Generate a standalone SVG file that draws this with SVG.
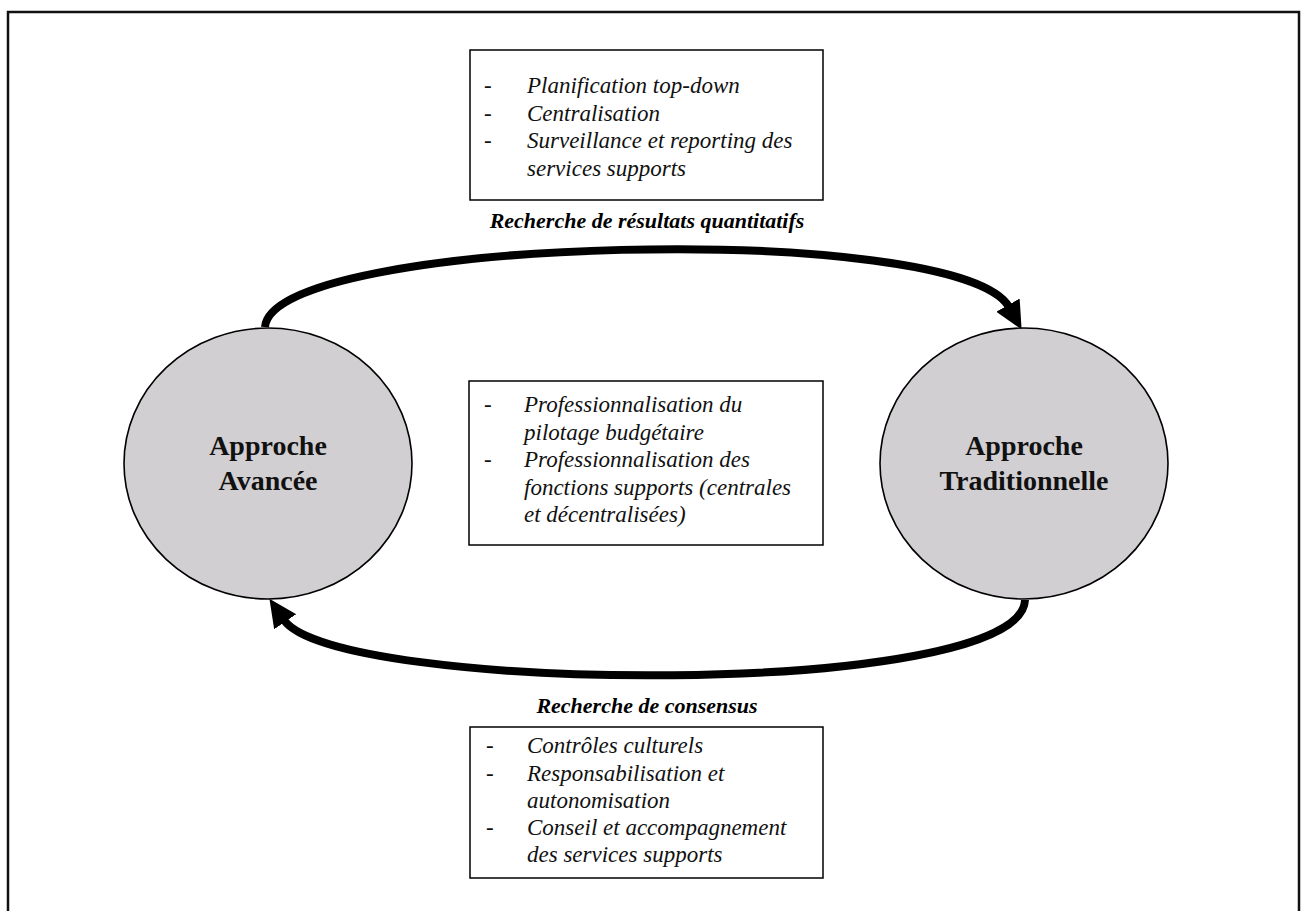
<svg xmlns="http://www.w3.org/2000/svg" width="1307" height="911" viewBox="0 0 1307 911">
<style>
.frame{fill:#fff;stroke:#111;stroke-width:2.5}
.box{fill:#fff;stroke:#000;stroke-width:1.5}
.circ{fill:#d1cfd1;stroke:#000;stroke-width:1.6}
.it{font-family:"Liberation Serif","Times New Roman",serif;font-style:italic;font-size:23px;fill:#111}
.lbl{font-family:"Liberation Serif","Times New Roman",serif;font-style:italic;font-weight:bold;font-size:22px;fill:#000;text-anchor:middle}
.ttl{font-family:"Liberation Serif","Times New Roman",serif;font-weight:bold;font-size:28px;fill:#111;text-anchor:middle}
.arr{fill:none;stroke:#000;stroke-width:8}
</style>
<defs>
<marker id="head" markerUnits="userSpaceOnUse" markerWidth="30" markerHeight="30" viewBox="0 -13 28 26" refX="2" refY="0" orient="auto">
<path d="M0,-12.5 L26,0 L0,12.5 z" fill="#000"/>
</marker>
</defs>
<rect class="frame" x="8" y="12" width="1291" height="920"/>
<g id="connectors">
<path class="arr" d="M265,327 C272,235 960,220 1009,307" marker-end="url(#head)"/>
<path class="arr" d="M1025,600 C1022,700 335,694 284,620" marker-end="url(#head)"/>
</g>
<g id="top-box">
<rect class="box" x="470" y="50" width="353" height="150"/>
<text class="it" x="484" y="93">-</text><text class="it" x="527" y="93">Planification top-down</text>
<text class="it" x="484" y="120.5">-</text><text class="it" x="527" y="120.5">Centralisation</text>
<text class="it" x="484" y="148">-</text><text class="it" x="527" y="148">Surveillance et reporting des</text>
<text class="it" x="527" y="175.5">services supports</text>
</g>
<g id="top-label">
<text class="lbl" x="647" y="228">Recherche de résultats quantitatifs</text>
</g>
<g id="middle-box">
<rect class="box" x="469" y="381" width="354" height="164"/>
<text class="it" x="484" y="412">-</text><text class="it" x="524" y="412">Professionnalisation du</text>
<text class="it" x="524" y="439.5">pilotage budgétaire</text>
<text class="it" x="484" y="467">-</text><text class="it" x="524" y="467">Professionnalisation des</text>
<text class="it" x="524" y="494.5">fonctions supports (centrales</text>
<text class="it" x="524" y="522">et décentralisées)</text>
</g>
<g id="approche-avancee">
<ellipse class="circ" cx="268" cy="463.5" rx="144" ry="135.5"/>
<text class="ttl" x="268" y="455">Approche</text>
<text class="ttl" x="268" y="490">Avancée</text>
</g>
<g id="approche-traditionnelle">
<ellipse class="circ" cx="1024" cy="463.5" rx="144" ry="135.5"/>
<text class="ttl" x="1024" y="455">Approche</text>
<text class="ttl" x="1024" y="490">Traditionnelle</text>
</g>
<g id="bottom-label">
<text class="lbl" x="647" y="713">Recherche de consensus</text>
</g>
<g id="bottom-box">
<rect class="box" x="470" y="727" width="353" height="151"/>
<text class="it" x="486" y="753">-</text><text class="it" x="527" y="753">Contrôles culturels</text>
<text class="it" x="486" y="780.5">-</text><text class="it" x="527" y="780.5">Responsabilisation et</text>
<text class="it" x="527" y="808">autonomisation</text>
<text class="it" x="486" y="835">-</text><text class="it" x="527" y="835">Conseil et accompagnement</text>
<text class="it" x="527" y="862">des services supports</text>
</g>
</svg>
